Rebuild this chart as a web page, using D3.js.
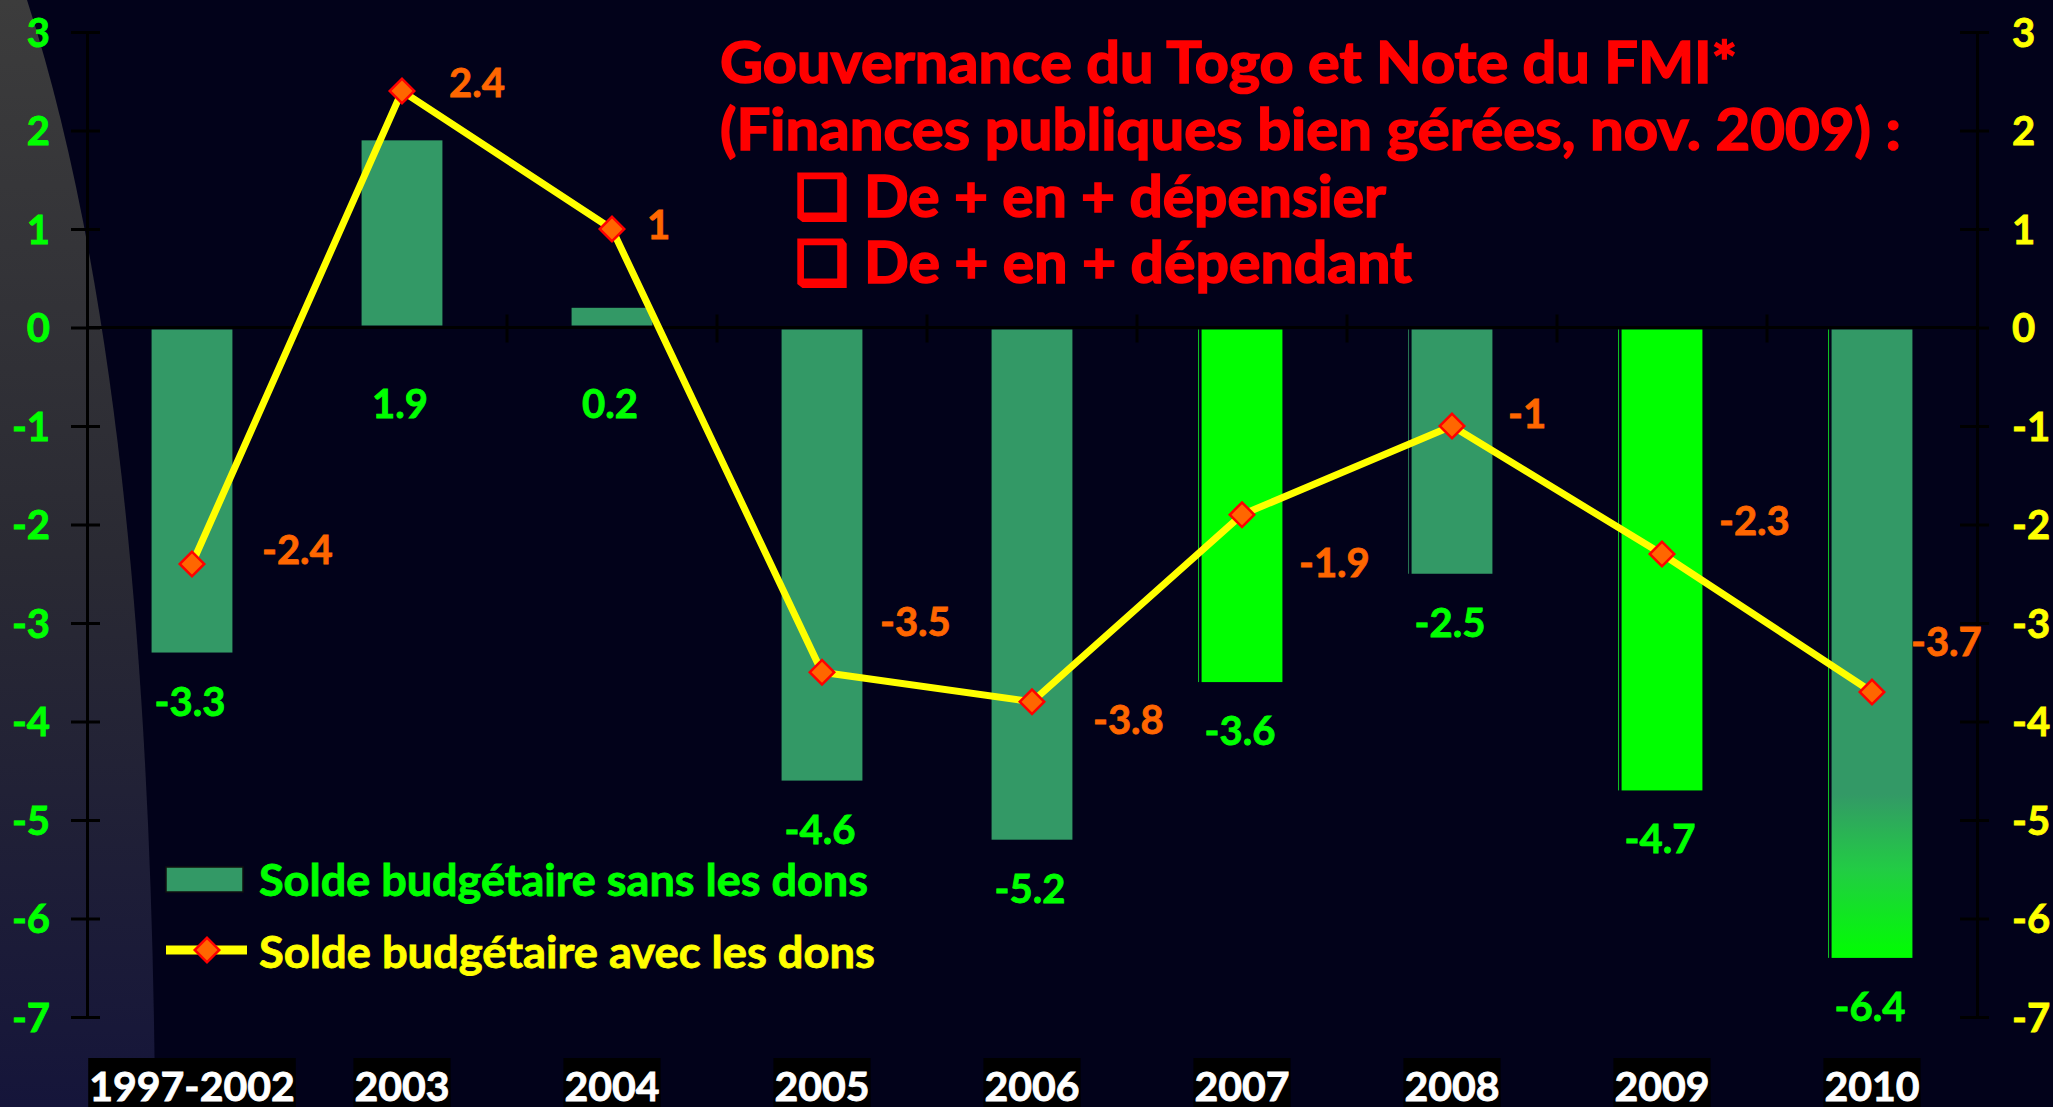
<!DOCTYPE html>
<html>
<head>
<meta charset="utf-8">
<script src="https://cdn.jsdelivr.net/npm/d3@7"></script>
<style>
  html, body { margin: 0; padding: 0; background: #02021a; overflow: hidden; }
  svg { display: block; }
  text { font-family: Lato, "Open Sans", sans-serif; font-weight: 700; }
</style>
</head>
<body>
<div id="chart"></div>
<script>

// ---------- data ----------
const categories = ["1997-2002", "2003", "2004", "2005", "2006", "2007", "2008", "2009", "2010"];
const soldeSansDons = [-3.3, 1.9, 0.2, -4.6, -5.2, -3.6, -2.5, -4.7, -6.4];
const soldeAvecDons = [-2.4, 2.4, 1, -3.5, -3.8, -1.9, -1, -2.3, -3.7];
const yTicks = [3, 2, 1, 0, -1, -2, -3, -4, -5, -6, -7];

const titleLines = ["Gouvernance du Togo et Note du FMI*", "(Finances publiques bien gérées, nov. 2009) :"];
const bulletLines = ["De + en + dépensier", "De + en + dépendant"];
const legendLabels = ["Solde budgétaire sans les dons", "Solde budgétaire avec les dons"];

// ---------- styling / layout ----------
// the slide colours the bars by hand
const barStyle = ["dark", "dark", "dark", "dark", "dark", "bright", "dark", "bright", "fade"];
// hand-placed labels of the line, offset [dx, dy] from each marker
const avecNudge = [[70, 0], [47, 6], [35, 10], [58, -36], [61, 32], [57, 62], [56, 2], [57, -19], [39, -36]];

const width = 2053;
const height = 1107;
const green = "#00ff00", dark = "#339966", yellow = "#ffff00", orange = "#ff6600";

const svg = d3.select("#chart")
  .append("svg")
  .attr("width", width)
  .attr("height", height);

const defs = svg.append("defs");

const side = defs.append("linearGradient")
  .attr("id", "side").attr("x1", 0).attr("y1", 0).attr("x2", 0).attr("y2", 1);
side.append("stop").attr("offset", 0).attr("stop-color", "#3c3c3c");
side.append("stop").attr("offset", 0.5).attr("stop-color", "#2a2a33");
side.append("stop").attr("offset", 1).attr("stop-color", "#15153a");

const x = d3.scaleBand()
  .domain(categories)
  .range([87, 1977]);

const y = d3.scaleLinear()
  .domain([-7, 3])
  .range([1017, 32]);

const bw = x.bandwidth() * 0.385;
const cx = c => x(c) + x.bandwidth() / 2;

const fade = defs.append("linearGradient")
  .attr("id", "fade")
  .attr("gradientUnits", "userSpaceOnUse")
  .attr("x1", 0).attr("x2", 0)
  .attr("y1", y(0)).attr("y2", y(-6.4));
fade.append("stop").attr("offset", 0).attr("stop-color", dark);
fade.append("stop").attr("offset", 0.74).attr("stop-color", dark);
fade.append("stop").attr("offset", 0.86).attr("stop-color", "#22cc44");
fade.append("stop").attr("offset", 1).attr("stop-color", green);

// background
svg.append("rect").attr("width", width).attr("height", height).attr("fill", "#02021a");
svg.append("path")
  .attr("d", "M0,0 L27,0 Q150,380 155,1107 L0,1107 Z")
  .attr("fill", "url(#side)");

// stretch a text to the width it has on the slide (Calibri there)
const fitText = (sel, target) => {
  sel.attr("textLength", target).attr("lengthAdjust", "spacingAndGlyphs");
};

// ---------- title ----------
const title = svg.append("g")
  .attr("fill", "#ff0000")
  .attr("stroke", "#ff0000")
  .attr("stroke-width", 1.6);

title.selectAll(".tl")
  .data(titleLines)
  .join("text")
    .attr("class", "tl")
    .attr("x", 720)
    .attr("y", (d, i) => 83 + i * 67)
    .attr("font-size", 57)
    .text(d => d)
    .each(function (d, i) { fitText(d3.select(this), [1017, 1181][i]); });

const bullets = title.selectAll(".bl")
  .data(bulletLines)
  .join("g")
    .attr("class", "bl")
    .attr("transform", (d, i) => `translate(796, ${217 + i * 66})`);
bullets.append("text")
  .attr("font-family", "DejaVu Sans")
  .attr("font-weight", 700)
  .attr("font-size", 58)
  .attr("stroke-width", 2.5)
  .text("\u2751");
bullets.append("text")
  .attr("x", 68)
  .attr("font-size", 57)
  .text(d => d)
  .each(function (d, i) { fitText(d3.select(this), [522, 548][i]); });

// ---------- bars ----------
const barFill = s => s === "bright" ? green : s === "fade" ? "url(#fade)" : dark;

const bars = svg.append("g");
bars.selectAll("rect")
  .data(categories)
  .join("rect")
    .attr("x", d => cx(d) - bw / 2)
    .attr("y", (d, i) => soldeSansDons[i] > 0 ? y(soldeSansDons[i]) : y(0) + 2)
    .attr("width", bw)
    .attr("height", (d, i) => Math.abs(y(soldeSansDons[i]) - y(0)) - 2)
    .attr("fill", (d, i) => barFill(barStyle[i]));

// thin edge line seen on the left of some bars
bars.selectAll("line")
  .data(categories.filter((d, i) => soldeSansDons[i] < 0 && i > 4))
  .join("line")
    .attr("x1", d => cx(d) - bw / 2 - 3)
    .attr("x2", d => cx(d) - bw / 2 - 3)
    .attr("y1", y(0) + 2)
    .attr("y2", d => y(soldeSansDons[categories.indexOf(d)]))
    .attr("stroke", d => barStyle[categories.indexOf(d)] === "dark" ? "#2a7a55" : "#11cc22")
    .attr("stroke-width", 1);

// ---------- axes ----------
const axisL = svg.append("g")
  .attr("transform", "translate(87,0)")
  .call(d3.axisLeft(y).tickValues(yTicks).tickSize(16).tickSizeOuter(0).tickPadding(21).tickFormat(d => String(d)));
axisL.selectAll(".tick line").attr("x1", 13);

const axisR = svg.append("g")
  .attr("transform", "translate(1977,0)")
  .call(d3.axisRight(y).tickValues(yTicks).tickSize(12).tickSizeOuter(0).tickPadding(23).tickFormat(d => String(d)));
axisR.selectAll(".tick line").attr("x1", -17);

[axisL, axisR].forEach(g => {
  g.select(".domain").attr("stroke", "#000").attr("stroke-width", 3);
  g.selectAll(".tick line").attr("stroke", "#000").attr("stroke-width", 3);
  g.selectAll("text")
    .attr("font-family", null)
    .attr("font-size", 40)
    .attr("stroke-width", 0.8)
    .attr("dy", "0.36em");
});
axisL.selectAll("text").attr("fill", green).attr("stroke", green);
axisR.selectAll("text").attr("fill", yellow).attr("stroke", yellow);

// zero line with category separators
svg.append("line")
  .attr("x1", 87).attr("x2", 1977)
  .attr("y1", y(0)).attr("y2", y(0))
  .attr("stroke", "#000").attr("stroke-width", 3);
svg.append("g").selectAll("line")
  .data(categories.slice(1))
  .join("line")
    .attr("x1", d => x(d)).attr("x2", d => x(d))
    .attr("y1", y(0) - 13).attr("y2", y(0) + 15)
    .attr("stroke", "#000").attr("stroke-width", 3);

// ---------- bar labels ----------
svg.append("g").selectAll("text")
  .data(categories)
  .join("text")
    .attr("x", d => cx(d) - 2)
    .attr("y", (d, i) => soldeSansDons[i] > 0 ? y(0) + 90 : y(soldeSansDons[i]) + 63)
    .attr("text-anchor", "middle")
    .attr("font-size", 40)
    .attr("fill", green)
    .attr("stroke", green)
    .attr("stroke-width", 0.8)
    .text((d, i) => String(soldeSansDons[i]));

// ---------- line ----------
const line = d3.line()
  .x((d, i) => cx(categories[i]))
  .y(d => y(d));

svg.append("path")
  .datum(soldeAvecDons)
  .attr("d", line)
  .attr("fill", "none")
  .attr("stroke", yellow)
  .attr("stroke-width", 7)
  .attr("stroke-linejoin", "round");

const diamond = d3.symbol(d3.symbolSquare, 300);

svg.append("g").selectAll("path")
  .data(soldeAvecDons)
  .join("path")
    .attr("d", diamond)
    .attr("transform", (d, i) => `translate(${cx(categories[i])},${y(d)}) rotate(45)`)
    .attr("fill", orange)
    .attr("stroke", "#ff0000")
    .attr("stroke-width", 2.5);

svg.append("g").selectAll("text")
  .data(soldeAvecDons)
  .join("text")
    .attr("x", (d, i) => cx(categories[i]) + avecNudge[i][0])
    .attr("y", (d, i) => y(d) + avecNudge[i][1])
    .attr("font-size", 40)
    .attr("fill", orange)
    .attr("stroke", orange)
    .attr("stroke-width", 0.8)
    .text(d => String(d));

// ---------- category labels ----------
const cats = svg.append("g").selectAll("g")
  .data(categories)
  .join("g");
cats.append("rect").attr("fill", "#000");
cats.append("text")
  .attr("x", d => cx(d))
  .attr("y", 1101)
  .attr("text-anchor", "middle")
  .attr("font-size", 41)
  .attr("fill", "#fff")
  .attr("stroke", "#fff")
  .attr("stroke-width", 0.8)
  .text(d => d);
cats.each(function () {
  const g = d3.select(this);
  const b = g.select("text").node().getBBox();
  g.select("rect")
    .attr("x", b.x - 1).attr("width", b.width + 2)
    .attr("y", 1058).attr("height", height - 1058);
});

// ---------- legend ----------
const legend = svg.append("g");
legend.append("rect")
  .attr("x", 166).attr("y", 867)
  .attr("width", 77).attr("height", 25)
  .attr("fill", dark).attr("stroke", "#111").attr("stroke-width", 1.5);
legend.append("line")
  .attr("x1", 166).attr("x2", 247)
  .attr("y1", 950).attr("y2", 950)
  .attr("stroke", yellow).attr("stroke-width", 9);
legend.append("path")
  .attr("d", diamond)
  .attr("transform", "translate(207,950) rotate(45)")
  .attr("fill", orange).attr("stroke", "#ff0000").attr("stroke-width", 2.5);
legend.selectAll("text")
  .data(legendLabels)
  .join("text")
    .attr("x", 259)
    .attr("y", (d, i) => 896 + i * 72)
    .attr("font-size", 43)
    .attr("fill", (d, i) => i ? yellow : green)
    .attr("stroke", (d, i) => i ? yellow : green)
    .attr("stroke-width", 0.8)
    .text(d => d)
    .each(function (d, i) { fitText(d3.select(this), [609, 616][i]); });

</script>
</body>
</html>
